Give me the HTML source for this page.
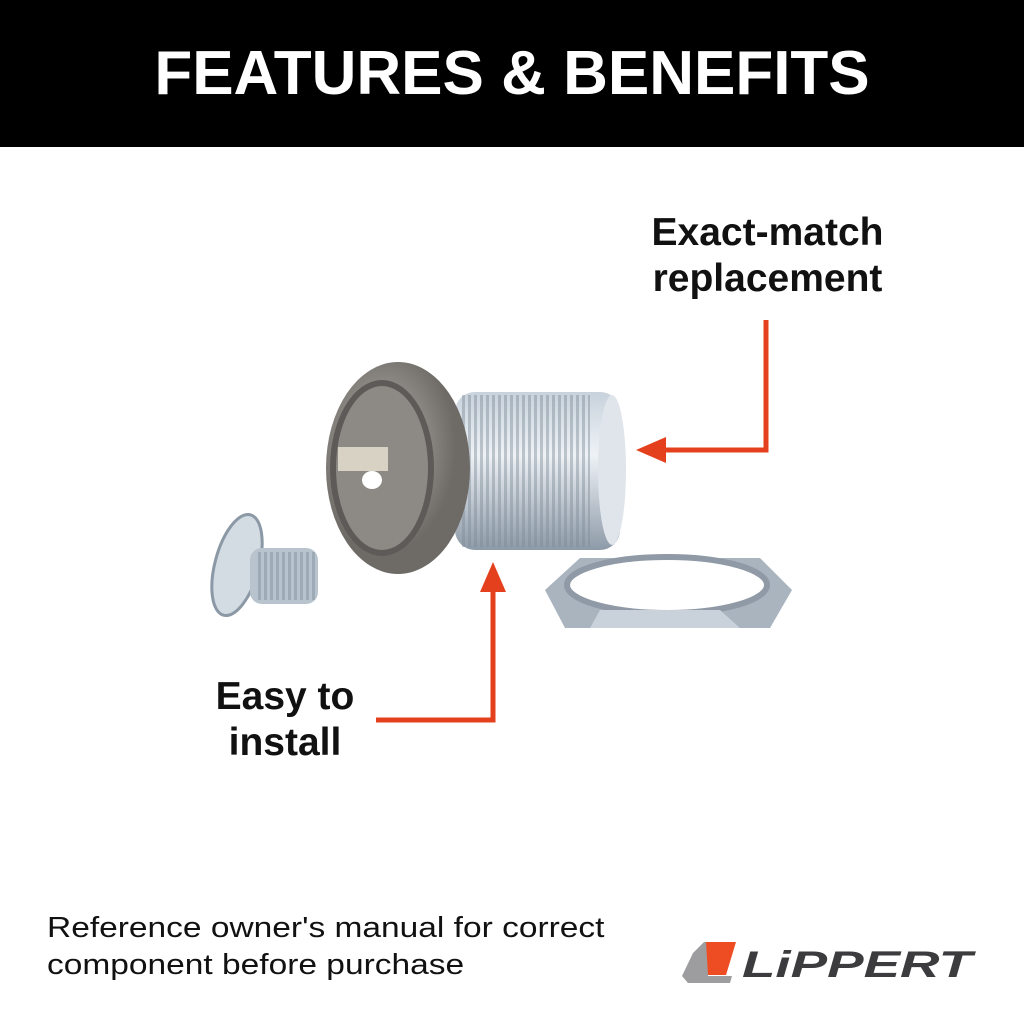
<!DOCTYPE html>
<html><head><style>
body{margin:0;width:1024px;height:1024px;background:#fff;overflow:hidden;position:relative;font-family:"Liberation Sans","DejaVu Sans",sans-serif}
.hdr{position:absolute;left:0;top:0;width:1024px;height:147px;background:#000;color:#fff;font-weight:bold;font-size:62px;text-align:center;line-height:147px;letter-spacing:0px}
.lbl{position:absolute;font-weight:bold;font-size:39px;color:#111;line-height:46px;text-align:center}
.foot{position:absolute;left:47px;top:910px;font-size:29px;color:#111;line-height:37px;transform:scaleX(1.155);transform-origin:left top;white-space:nowrap}
</style></head><body>
<div class="hdr">FEATURES &amp; BENEFITS</div>
<div class="lbl" style="left:630px;top:210px;width:275px">Exact-match<br>replacement</div>
<div class="lbl" style="left:200px;top:674px;width:170px">Easy to<br>install</div>
<div class="foot">Reference owner's manual for correct<br>component before purchase</div>
<svg width="1024" height="1024" style="position:absolute;left:0;top:0">
<defs>
<linearGradient id="thr" x1="0" x2="0" y1="0" y2="1"><stop offset="0" stop-color="#c8d2dc"/><stop offset=".4" stop-color="#eef2f6"/><stop offset="1" stop-color="#8d9aa8"/></linearGradient>
<radialGradient id="fl" cx=".4" cy=".4"><stop offset="0" stop-color="#b8b4b0"/><stop offset="1" stop-color="#6e6a66"/></radialGradient>
<pattern id="ln" width="6" height="10" patternUnits="userSpaceOnUse"><rect width="3" height="10" fill="#7f8c98" opacity=".45"/></pattern>
</defs>
<rect x="455" y="392" width="165" height="158" rx="20" fill="url(#thr)"/>
<rect x="460" y="395" width="130" height="152" fill="url(#ln)"/>
<ellipse cx="612" cy="470" rx="14" ry="75" fill="#dfe5ea"/>
<ellipse cx="398" cy="468" rx="72" ry="106" fill="url(#fl)"/>
<ellipse cx="382" cy="468" rx="52" ry="88" fill="#5e5a57"/>
<ellipse cx="382" cy="468" rx="46" ry="82" fill="#8d8985"/>
<rect x="338" y="447" width="50" height="24" fill="#d8d2c4"/>
<ellipse cx="372" cy="480" rx="10" ry="9" fill="#fff"/>
<polygon points="545,590 580,558 760,558 792,590 770,628 565,628" fill="#a9b4bf"/>
<ellipse cx="667" cy="585" rx="100" ry="28" fill="#fff" stroke="#8f9aa6" stroke-width="6"/>
<polygon points="600,610 720,610 740,628 590,628" fill="#c9d2db"/>
<ellipse cx="237" cy="565" rx="22" ry="52" transform="rotate(15 237 565)" fill="#d3dbe3" stroke="#8b98a5" stroke-width="3"/>
<rect x="250" y="548" width="68" height="56" rx="12" fill="#b8c3cd"/>
<rect x="255" y="552" width="60" height="48" fill="url(#ln)"/>
<g fill="none" stroke="#e5401d" stroke-width="5">
<polyline points="766,320 766,450 660,450"/>
<polyline points="376,720 493,720 493,590"/>
</g>
<polygon points="636,450 666,437 666,463" fill="#e5401d"/>
<polygon points="493,562 480,592 506,592" fill="#e5401d"/>
<polygon points="693,953 704,942 708,942 708,976 732,976 730,983 688,983 682,976" fill="#9d9d9f"/>
<polygon points="706,942 736,942 726,975 708,975" fill="#ee4c23"/>
<text x="742" y="977" font-family="Liberation Sans,sans-serif" font-weight="bold" font-style="italic" font-size="37" fill="#3c3c3e" textLength="230" lengthAdjust="spacingAndGlyphs">LiPPERT</text>
</svg>
</body></html>
